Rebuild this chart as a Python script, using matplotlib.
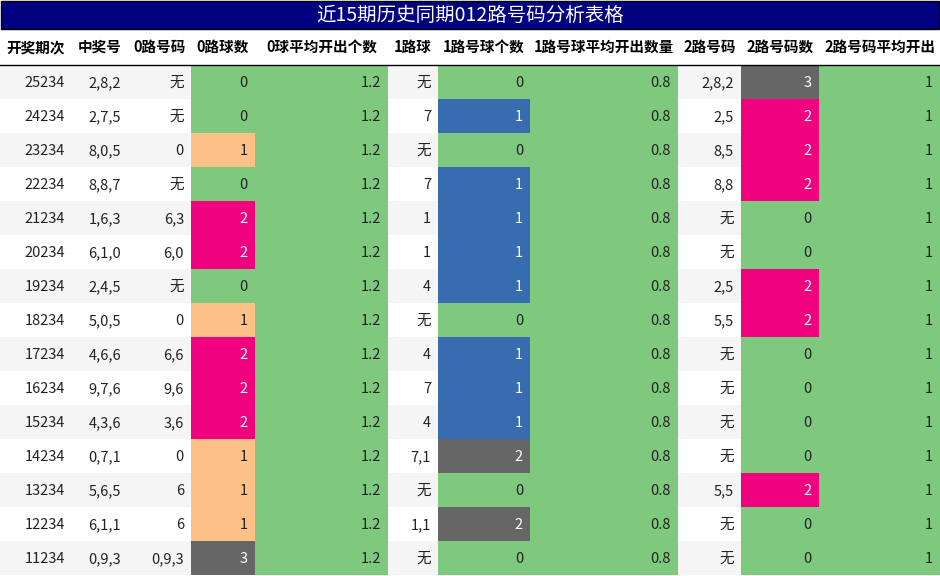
import matplotlib.pyplot as plt
from matplotlib.patches import Rectangle

plt.rcParams['font.family'] = ['Noto Sans CJK SC', 'DejaVu Sans']

title = "近15期历史同期012路号码分析表格"
headers = ["开奖期次", "中奖号", "0路号码", "0路球数", "0球平均开出个数", "1路球",
           "1路号球个数", "1路号球平均开出数量", "2路号码", "2路号码数", "2路号码平均开出"]
periods = ["25234", "24234", "23234", "22234", "21234", "20234", "19234", "18234",
           "17234", "16234", "15234", "14234", "13234", "12234", "11234"]
numbers = ["2,8,2", "2,7,5", "8,0,5", "8,8,7", "1,6,3", "6,1,0", "2,4,5", "5,0,5",
           "4,6,6", "9,7,6", "4,3,6", "0,7,1", "5,6,5", "6,1,1", "0,9,3"]
road0 = ["无", "无", "0", "无", "6,3", "6,0", "无", "0", "6,6", "9,6", "3,6", "0", "6", "6", "0,9,3"]
road0_cnt = [0, 0, 1, 0, 2, 2, 0, 1, 2, 2, 2, 1, 1, 1, 3]
road0_avg = 1.2
road1 = ["无", "7", "无", "7", "1", "1", "4", "无", "4", "7", "4", "7,1", "无", "1,1", "无"]
road1_cnt = [0, 1, 0, 1, 1, 1, 1, 0, 1, 1, 1, 2, 0, 2, 0]
road1_avg = 0.8
road2 = ["2,8,2", "2,5", "8,5", "8,8", "无", "无", "2,5", "5,5", "无", "无", "无", "无", "5,5", "无", "无"]
road2_cnt = [3, 2, 2, 2, 0, 0, 2, 2, 0, 0, 0, 0, 2, 0, 0]
road2_avg = 1

GREEN, ORANGE, PINK, BLUE, GRAY = "#7fc97f", "#fdc086", "#f0027f", "#386cb0", "#666666"
cmap0 = {0: GREEN, 1: ORANGE, 2: PINK, 3: GRAY}
cmap1 = {0: GREEN, 1: BLUE, 2: GRAY}
cmap2 = {0: GREEN, 2: PINK, 3: GRAY}

edges = [0, 72, 128, 191, 255, 388, 438, 530, 678, 741, 819, 940]
row_h = 34
top = 65

fig = plt.figure(figsize=(9.4, 5.76), dpi=100)
ax = fig.add_axes([0, 0, 1, 1])
ax.set_xlim(0, 940)
ax.set_ylim(576, 0)
ax.axis("off")

ax.add_patch(Rectangle((1, 1), 938, 28, facecolor="#000080", edgecolor="black", lw=1))
ax.text(470, 15, title, color="white", ha="center", va="center", fontsize=14)

for j, h in enumerate(headers):
    ax.text((edges[j] + edges[j + 1]) / 2, 47, h, ha="center", va="center",
            fontsize=10.5, fontweight="bold")
ax.plot([0, 940], [top, top], color="black", lw=1)

for i in range(len(periods)):
    y0 = top + i * row_h
    bg = "#f5f5f5" if i % 2 == 0 else "white"
    vals = [periods[i], numbers[i], road0[i], str(road0_cnt[i]), str(road0_avg),
            road1[i], str(road1_cnt[i]), str(road1_avg), road2[i], str(road2_cnt[i]), str(road2_avg)]
    colors = [bg, bg, bg, cmap0[road0_cnt[i]], GREEN, bg, cmap1[road1_cnt[i]], GREEN,
              bg, cmap2[road2_cnt[i]], GREEN]
    for j, v in enumerate(vals):
        c = colors[j]
        ax.add_patch(Rectangle((edges[j], y0), edges[j + 1] - edges[j], row_h,
                               facecolor=c, edgecolor="none"))
        tc = "white" if c in (PINK, BLUE, GRAY) else "#222222"
        ax.text(edges[j + 1] - 7, y0 + row_h / 2 + 1, v, ha="right", va="center",
                fontsize=10.5, color=tc)

fig.savefig("out.png", dpi=100)
